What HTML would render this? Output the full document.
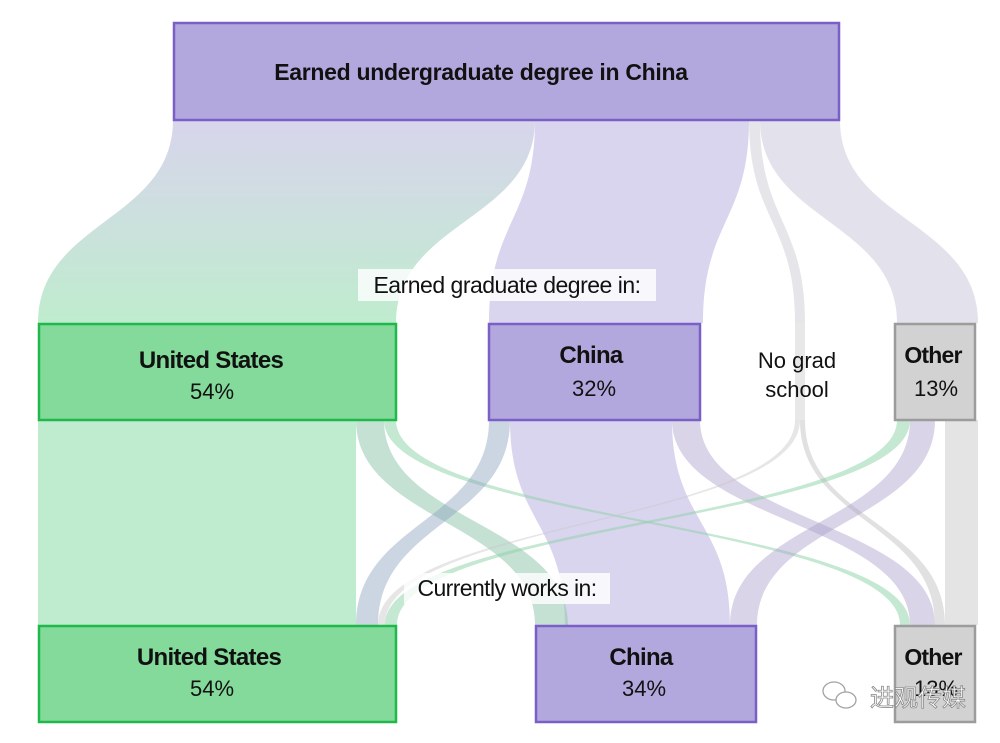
<!DOCTYPE html>
<html><head><meta charset="utf-8"><style>
html,body{margin:0;padding:0;background:#fff;width:1000px;height:743px;overflow:hidden}
svg{display:block}
text{font-family:"Liberation Sans","Noto Sans CJK SC",sans-serif}
</style></head><body>
<svg width="1000" height="743" viewBox="0 0 1000 743" xmlns="http://www.w3.org/2000/svg">
<defs>
<linearGradient id="g1" x1="0" y1="0" x2="0" y2="1">
<stop offset="0" stop-color="#d8d5ec"/><stop offset="1" stop-color="#bfecce"/></linearGradient>
</defs>
<path d="M173 120 C173 221,38 221,38 323 L396 323 C396 221,535 221,535 120 Z" fill="url(#g1)"/>
<path d="M535 120 C535 221,489 221,489 323 L703 323 C703 221,749 221,749 120 Z" fill="#dad5ee"/>
<path d="M749 120 C749 221,795 221,795 323 L805 323 C805 221,760 221,760 120 Z" fill="#e6e6ea"/>
<path d="M760 120 C760 221,897 221,897 323 L978 323 C978 221,840 221,840 120 Z" fill="#e3e1eb"/>
<rect x="795" y="323" width="10" height="97" fill="#e8e8e8"/>
<rect x="38" y="420" width="318" height="205" fill="#bfecce"/>
<rect x="945" y="420" width="33" height="205" fill="#e4e4e4"/>
<path d="M510 420 C510 522,565 522,565 625 L730 625 C730 522,672 522,672 420 Z" fill="#dad5ee"/>
<g>
<path d="M356 420 C356 522,535 522,535 625 L568 625 C568 522,384 522,384 420 Z" fill="rgba(140,195,170,0.5)"/>
<path d="M384 420 C384 522,900 522,900 625 L910 625 C910 522,396 522,396 420 Z" fill="rgba(140,210,165,0.5)"/>
<path d="M489 420 C489 522,356 522,356 625 L378 625 C378 522,510 522,510 420 Z" fill="rgba(140,165,190,0.45)"/>
<path d="M672 420 C672 522,910 522,910 625 L935 625 C935 522,700 522,700 420 Z" fill="rgba(170,160,205,0.45)"/>
<path d="M795 420 C795 522,378 522,378 625 L385 625 C385 522,800 522,800 420 Z" fill="rgba(200,200,200,0.45)"/>
<path d="M800 420 C800 522,935 522,935 625 L945 625 C945 522,805 522,805 420 Z" fill="rgba(200,200,200,0.55)"/>
<path d="M897 420 C897 522,385 522,385 625 L397 625 C397 522,910 522,910 420 Z" fill="rgba(140,210,165,0.5)"/>
<path d="M910 420 C910 522,730 522,730 625 L757 625 C757 522,935 522,935 420 Z" fill="rgba(170,160,205,0.45)"/>
</g>
<rect x="174" y="23" width="665" height="97" fill="#b3a8dd" stroke="#7a5fc7" stroke-width="2.5"/>
<rect x="39" y="324" width="357" height="96" fill="#84da9a" stroke="#1fb84b" stroke-width="2.5"/>
<rect x="489" y="324" width="211" height="96" fill="#b3a8dd" stroke="#7a5fc7" stroke-width="2.5"/>
<rect x="895" y="324" width="80" height="96" fill="#d2d2d2" stroke="#9c9c9c" stroke-width="2.5"/>
<rect x="39" y="626" width="357" height="96" fill="#84da9a" stroke="#1fb84b" stroke-width="2.5"/>
<rect x="536" y="626" width="220" height="96" fill="#b3a8dd" stroke="#7a5fc7" stroke-width="2.5"/>
<rect x="895" y="626" width="80" height="96" fill="#d2d2d2" stroke="#9c9c9c" stroke-width="2.5"/>
<rect x="358" y="269" width="298" height="32" fill="#fff" opacity="0.8"/>
<rect x="404" y="573" width="206" height="31" fill="#fff" opacity="0.8"/>
<g fill="#111" text-anchor="middle">
<text x="481" y="80" font-size="23" font-weight="bold" letter-spacing="-0.3">Earned undergraduate degree in China</text>
<text x="507" y="293" font-size="23" letter-spacing="-0.5">Earned graduate degree in:</text>
<text x="507" y="596" font-size="23" letter-spacing="-0.6">Currently works in:</text>
<text x="211" y="368" font-size="24" font-weight="bold" letter-spacing="-0.7">United States</text>
<text x="212" y="399" font-size="22">54%</text>
<text x="591" y="363" font-size="24" font-weight="bold" letter-spacing="-0.7">China</text>
<text x="594" y="396" font-size="22">32%</text>
<text x="797" y="368" font-size="22">No grad</text>
<text x="797" y="397" font-size="22">school</text>
<text x="933" y="363" font-size="23" font-weight="bold" letter-spacing="-0.8">Other</text>
<text x="936" y="396" font-size="22">13%</text>
<text x="209" y="665" font-size="24" font-weight="bold" letter-spacing="-0.7">United States</text>
<text x="212" y="696" font-size="22">54%</text>
<text x="641" y="665" font-size="24" font-weight="bold" letter-spacing="-0.7">China</text>
<text x="644" y="696" font-size="22">34%</text>
<text x="933" y="665" font-size="23" font-weight="bold" letter-spacing="-0.8">Other</text>
<text x="936" y="696" font-size="22">13%</text>
</g>
<g opacity="0.9" fill="#fff" stroke="#999" stroke-width="1.3">
<ellipse cx="834" cy="691" rx="11" ry="9"/>
<ellipse cx="846" cy="700" rx="10" ry="8"/>
</g>
<text x="918" y="706" font-size="24" text-anchor="middle" fill="#fff" stroke="#888" stroke-width="0.8" style="font-family:'Noto Sans CJK SC',sans-serif">进观传媒</text>
</svg>
</body></html>
